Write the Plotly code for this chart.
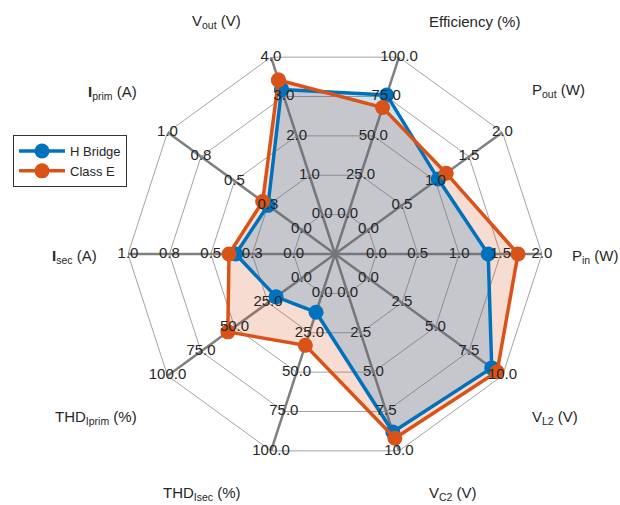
import plotly.graph_objects as go

# ---- data -------------------------------------------------------------
categories = ["V<sub>out</sub> (V)", "Efficiency (%)", "P<sub>out</sub> (W)",
              "P<sub>in</sub> (W)", "V<sub>L2</sub> (V)", "V<sub>C2</sub> (V)",
              "THD<sub>Isec</sub> (%)", "THD<sub>Iprim</sub> (%)",
              "<b>I</b><sub>sec</sub> (A)", "<b>I</b><sub>prim</sub> (A)"]
axis_max = [4.0, 100.0, 2.0, 2.0, 10.0, 10.0, 100.0, 100.0, 1.0, 1.0]
h_bridge = [3.18, 76.0, 1.04, 1.35, 9.2, 8.8, 12.0, 19.0, 0.35, 0.25]
class_e = [3.42, 68.0, 1.16, 1.71, 9.6, 9.2, 33.0, 55.0, 0.39, 0.29]
tick_labels = [
    ["0.0", "1.0", "2.0", "3.0", "4.0"],
    ["0.0", "25.0", "50.0", "75.0", "100.0"],
    ["0.0", "0.5", "1.0", "1.5", "2.0"],
    ["0.0", "0.5", "1.0", "1.5", "2.0"],
    ["0.0", "2.5", "5.0", "7.5", "10.0"],
    ["0.0", "2.5", "5.0", "7.5", "10.0"],
    ["0.0", "25.0", "50.0", "75.0", "100.0"],
    ["0.0", "25.0", "50.0", "75.0", "100.0"],
    ["0.0", "0.3", "0.5", "0.8", "1.0"],
    ["0.0", "0.3", "0.5", "0.8", "1.0"],
]
series_names = ["H Bridge", "Class E"]

# ---- layout constants ---------------------------------------------------
W, H = 620, 505
ML, MR, MT, MB = 128, 78, 47, 44
PW, PH = W - ML - MR, H - MT - MB
N = len(categories)
STEP = 360.0 / N
thetas = [i * STEP for i in range(N)]
FONT = "Liberation Sans, Arial, Helvetica, sans-serif"
TXT = "#262626"
BLUE = "#0072BD"
ORANGE = "#D95319"

# label anchors in pixel coords (x edge, y middle, anchor side)
label_pos = [(243, 22, "right"), (427, 22, "left"), (530, 90, "left"),
             (570, 256, "left"), (530, 417, "left"), (427, 494, "left"),
             (243, 494, "right"), (139, 417, "right"), (99, 256, "right"),
             (139, 92, "right")]


def norm(vals):
    # axes offset by one ring: value 0 sits on the first ring
    return [(1 + 4 * v / m) / 5 for v, m in zip(vals, axis_max)]


fig = go.Figure()

# web rings
for k in range(1, 6):
    fig.add_trace(go.Scatterpolar(
        r=[k / 5] * (N + 1), theta=thetas + [thetas[0]], mode="lines",
        line=dict(color="#a3a3a3", width=1), hoverinfo="skip", showlegend=False))

# spokes
sr, st = [], []
for t in thetas:
    sr += [0, 1, None]
    st += [t, t, None]
fig.add_trace(go.Scatterpolar(r=sr, theta=st, mode="lines",
                              line=dict(color="#808080", width=2.5),
                              hoverinfo="skip", showlegend=False))

# fills (orange first, blue on top)
for vals, col in [(class_e, "rgba(217,83,25,0.2)"), (h_bridge, "rgba(0,114,189,0.2)")]:
    r = norm(vals)
    fig.add_trace(go.Scatterpolar(r=r + [r[0]], theta=thetas + [thetas[0]],
                                  mode="lines", fill="toself", fillcolor=col,
                                  line=dict(width=0, color=col),
                                  hoverinfo="skip", showlegend=False))

# lines and markers
for vals, col, name in [(h_bridge, BLUE, series_names[0]), (class_e, ORANGE, series_names[1])]:
    r = norm(vals)
    fig.add_trace(go.Scatterpolar(r=r + [r[0]], theta=thetas + [thetas[0]],
                                  mode="lines+markers", name=name,
                                  line=dict(color=col, width=3.5),
                                  marker=dict(color=col, size=15)))

# tick labels
tr, tt, tx = [], [], []
for i, labs in enumerate(tick_labels):
    for k, lab in enumerate(labs):
        tr.append((k + 1) / 5)
        tt.append(thetas[i])
        tx.append(lab)
fig.add_trace(go.Scatterpolar(r=tr, theta=tt, text=tx, mode="text",
                              textposition="middle center",
                              textfont=dict(family=FONT, size=15, color=TXT),
                              hoverinfo="skip", showlegend=False, cliponaxis=False))

# axis labels
for lab, (px, py, side) in zip(categories, label_pos):
    fig.add_annotation(text=lab, xref="paper", yref="paper",
                       x=(px - ML) / PW, y=(H - MB - py) / PH,
                       xanchor=side, yanchor="middle", showarrow=False,
                       font=dict(family=FONT, size=15, color=TXT))

fig.update_layout(
    width=W, height=H,
    margin=dict(l=ML, r=MR, t=MT, b=MB, pad=0),
    paper_bgcolor="white", plot_bgcolor="white",
    font=dict(family=FONT, color=TXT),
    polar=dict(
        bgcolor="white",
        radialaxis=dict(visible=False, range=[0, 1]),
        angularaxis=dict(visible=False, rotation=108, direction="clockwise",
                         showgrid=False, showline=False),
        gridshape="linear",
    ),
    legend=dict(x=(13 - ML) / PW, y=(H - MB - 135) / PH, xanchor="left", yanchor="top",
                bordercolor="#333333", borderwidth=1, bgcolor="white",
                font=dict(family=FONT, size=13, color=TXT),
                itemwidth=46, tracegroupgap=0),
    showlegend=True,
)

fig.write_html("out.html", config={"displayModeBar": False},
               post_script="document.body.style.margin='0';document.body.style.overflow='hidden';")
